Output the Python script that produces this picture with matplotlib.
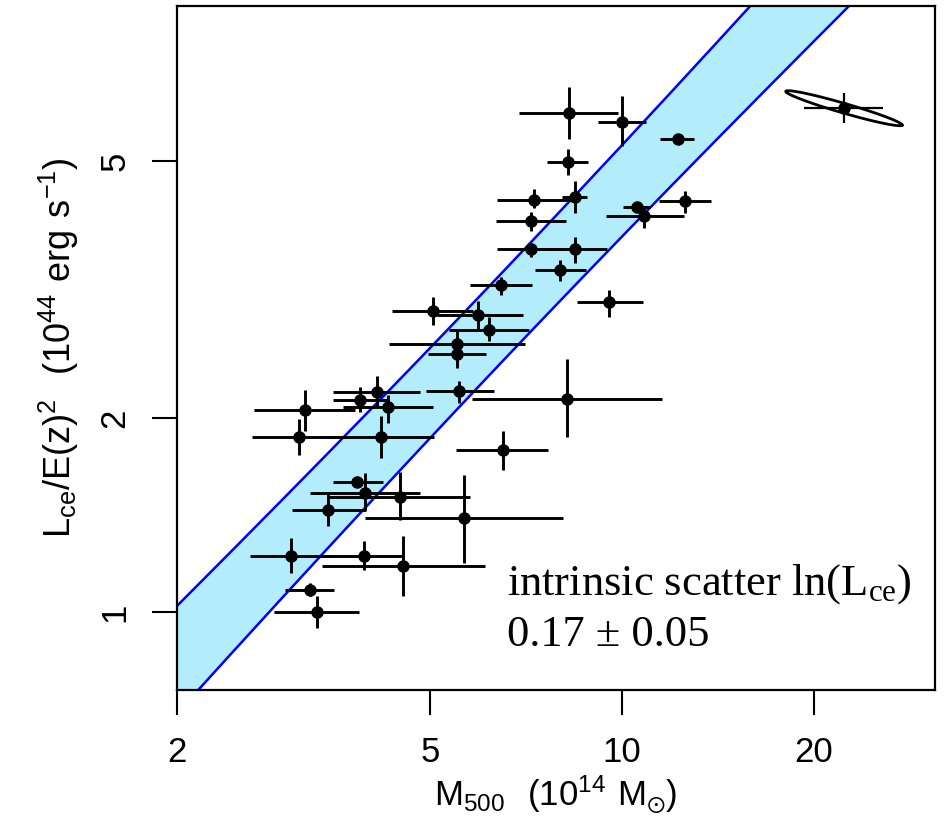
import numpy as np
import matplotlib
matplotlib.use("Agg")
import matplotlib.pyplot as plt
from matplotlib.ticker import FixedLocator, FixedFormatter, NullLocator

# cluster masses M500 (1e14 Msun) with lower / upper error bounds
mass = np.array([8.24, 9.99, 12.26, 8.21, 8.44, 7.26, 7.19, 10.55, 10.84, 12.56,
                 7.19, 8.44, 7.99, 6.45, 9.55, 5.05, 5.94, 6.18, 5.51, 5.50,
                 5.55, 8.19, 3.18, 3.87, 4.12, 4.29, 3.11, 4.18, 6.49, 3.84,
                 3.95, 4.48, 3.45, 5.65, 3.02, 3.93, 4.53, 3.23, 3.32])
mass_lo = np.array([6.90, 9.15, 11.48, 7.62, 8.05, 6.36, 6.33, 10.04, 9.44, 11.41,
                    6.37, 7.65, 7.30, 5.77, 8.49, 4.35, 5.12, 5.35, 4.31, 4.95,
                    4.92, 5.81, 2.64, 3.51, 3.52, 3.65, 2.62, 3.44, 5.49, 3.52,
                    3.23, 3.46, 3.03, 3.95, 2.60, 3.39, 3.38, 2.96, 2.84])
mass_hi = np.array([9.85, 10.90, 12.99, 8.83, 8.80, 8.40, 8.17, 11.07, 12.52, 13.80,
                    8.23, 9.46, 8.78, 7.23, 10.77, 5.84, 6.98, 7.15, 7.04, 6.12,
                    6.29, 11.55, 3.81, 4.27, 4.82, 5.04, 3.69, 5.07, 7.66, 4.21,
                    4.82, 5.77, 3.96, 8.07, 3.50, 4.53, 6.09, 3.53, 3.86])

# core-excised luminosity L_ce/E(z)^2 (1e44 erg/s) with lower / upper bounds
lum = np.array([5.93, 5.76, 5.41, 4.99, 4.40, 4.35, 4.04, 4.25, 4.11, 4.33,
                3.65, 3.65, 3.39, 3.21, 3.02, 2.93, 2.89, 2.74, 2.60, 2.51,
                2.20, 2.14, 2.06, 2.13, 2.19, 2.08, 1.87, 1.87, 1.78, 1.59,
                1.53, 1.51, 1.44, 1.40, 1.22, 1.22, 1.18, 1.08, 1.00])
lum_lo = np.array([5.41, 5.27, 5.31, 4.76, 4.15, 4.23, 3.89, 4.18, 3.94, 4.15,
                   3.55, 3.48, 3.26, 3.10, 2.87, 2.79, 2.75, 2.63, 2.48, 2.39,
                   2.11, 1.87, 1.91, 2.04, 2.07, 1.96, 1.75, 1.73, 1.66, 1.57,
                   1.44, 1.39, 1.36, 1.19, 1.15, 1.16, 1.06, 1.06, 0.946])
lum_hi = np.array([6.51, 6.31, 5.49, 5.22, 4.65, 4.53, 4.17, 4.32, 4.25, 4.50,
                   3.73, 3.82, 3.51, 3.31, 3.16, 3.08, 3.04, 2.87, 2.74, 2.64,
                   2.28, 2.47, 2.21, 2.23, 2.32, 2.17, 1.99, 2.01, 1.91, 1.61,
                   1.64, 1.65, 1.53, 1.63, 1.30, 1.29, 1.31, 1.11, 1.06])

# representative point with error ellipse (top right)
rep_m, rep_m_lo, rep_m_hi = 22.3, 19.3, 25.7
rep_l, rep_l_lo, rep_l_hi = 6.04, 5.72, 6.37
ell_a, ell_b, ell_angle = 0.095, 0.0075, -16.0   # dex, dex, degrees

# fitted relation and confidence band (log-log)
fit_pivot, fit_norm, fit_slope = 6.6, 2.92, 1.04
band_w0, band_w1 = 0.069, 0.09

plt.rcParams["font.family"] = ["Liberation Sans", "DejaVu Sans"]

fig = plt.figure(figsize=(9.47, 8.31), dpi=100)
ax = fig.add_axes([0.1869, 0.1697, 0.8004, 0.8231])
ax.set_xscale("log"); ax.set_yscale("log")
ax.set_xlim(2, 31.0)
ax.set_ylim(0.757, 8.70)

mgrid = np.logspace(np.log10(2), np.log10(31), 300)
dx = np.log10(mgrid / fit_pivot)
centre = np.log10(fit_norm) + fit_slope * dx
half = np.sqrt(band_w0**2 + (band_w1 * dx)**2)
ax.fill_between(mgrid, 10**(centre - half), 10**(centre + half),
                color="#b3ecfb", lw=0, zorder=1)
ax.plot(mgrid, 10**(centre + half), color="#0000ff", lw=1.8, zorder=2)
ax.plot(mgrid, 10**(centre - half), color="#0000ff", lw=1.8, zorder=2)

ax.errorbar(mass, lum,
            xerr=[mass - mass_lo, mass_hi - mass],
            yerr=[lum - lum_lo, lum_hi - lum],
            fmt="o", color="black", ms=8, elinewidth=2.1, capsize=0, zorder=3)

ax.errorbar([rep_m], [rep_l],
            xerr=[[rep_m - rep_m_lo], [rep_m_hi - rep_m]],
            yerr=[[rep_l - rep_l_lo], [rep_l_hi - rep_l]],
            fmt="o", color="black", ms=8, elinewidth=1.6, capsize=0, zorder=3)
t = np.linspace(0, 2 * np.pi, 200)
th = np.deg2rad(ell_angle)
ex = ell_a * np.cos(t) * np.cos(th) - ell_b * np.sin(t) * np.sin(th)
ey = ell_a * np.cos(t) * np.sin(th) + ell_b * np.sin(t) * np.cos(th)
ax.plot(rep_m * 10**ex, rep_l * 10**ey, color="black", lw=2.0, zorder=3)

ax.text(0.435, 0.14, r"intrinsic scatter ln(L$\mathregular{_{ce}}$)",
        transform=ax.transAxes, family="Liberation Serif", fontsize=32,
        ha="left", va="baseline")
ax.text(0.435, 0.065, "0.17 \u00b1 0.05",
        transform=ax.transAxes, family="Liberation Serif", fontsize=32,
        ha="left", va="baseline")

ax.xaxis.set_major_locator(FixedLocator([2, 5, 10, 20]))
ax.xaxis.set_major_formatter(FixedFormatter(["2", "5", "10", "20"]))
ax.yaxis.set_major_locator(FixedLocator([1, 2, 5]))
ax.yaxis.set_major_formatter(FixedFormatter(["1", "2", "5"]))
ax.xaxis.set_minor_locator(NullLocator())
ax.yaxis.set_minor_locator(NullLocator())
ax.tick_params(direction="out", length=18, width=1.5, labelsize=25, pad=15)
for lab in ax.get_yticklabels():
    lab.set_rotation(90)
    lab.set_va("center")
for s in ax.spines.values():
    s.set_linewidth(1.6)

ax.set_xlabel(r"$\mathregular{M_{500}\ \ (10^{14}\ M_{\odot})}$", fontsize=25, labelpad=4)
ax.set_ylabel(r"$\mathregular{L_{ce}/E(z)^2\ \ (10^{44}\ erg\ s^{-1})}$", fontsize=26, labelpad=12)

fig.savefig("out.png", dpi=100)
